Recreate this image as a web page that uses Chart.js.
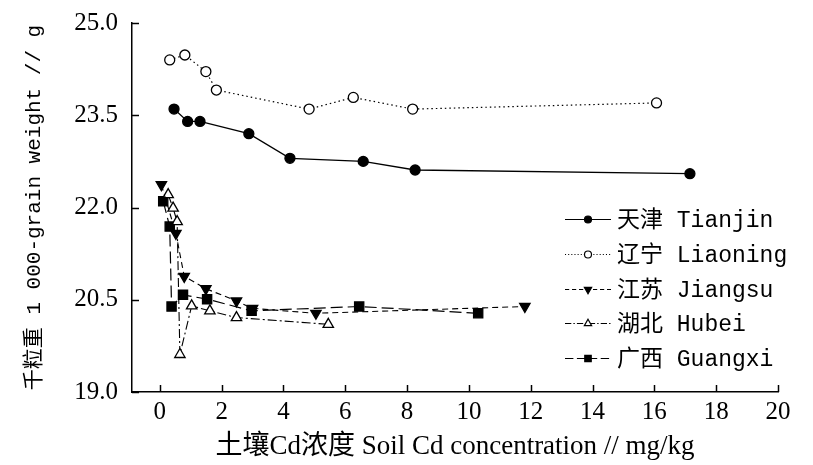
<!DOCTYPE html>
<html>
<head>
<meta charset="utf-8">
<script src="https://cdn.jsdelivr.net/npm/chart.js"></script>
<style>
  html, body { margin: 0; padding: 0; background: #fff; }
  #wrap { width: 813px; height: 465px; }
</style>
</head>
<body>
<div id="wrap"><canvas id="c" width="813" height="465"></canvas></div>
<script>
  // 土壤Cd浓度 (mg/kg) と 千粒重 (g)
  const tianjinX = [0.46, 0.90, 1.30, 2.88, 4.21, 6.58, 8.26, 17.15];
  const tianjinY = [23.60, 23.40, 23.40, 23.20, 22.80, 22.75, 22.61, 22.55];

  const liaoningX = [0.32, 0.81, 1.49, 1.83, 4.83, 6.26, 8.18, 16.07];
  const liaoningY = [24.40, 24.48, 24.21, 23.91, 23.60, 23.79, 23.60, 23.70];

  const jiangsuX = [0.05, 0.52, 0.79, 1.49, 2.48, 3.00, 5.05, 11.81];
  const jiangsuY = [22.37, 21.58, 20.88, 20.68, 20.48, 20.36, 20.28, 20.39];

  const hubeiX = [0.27, 0.43, 0.56, 0.65, 1.03, 1.62, 2.48, 5.45];
  const hubeiY = [22.21, 21.99, 21.77, 19.61, 20.40, 20.32, 20.21, 20.10];

  const guangxiX = [0.11, 0.32, 0.38, 0.75, 1.53, 2.97, 6.45, 10.30];
  const guangxiY = [22.10, 21.69, 20.39, 20.58, 20.51, 20.32, 20.39, 20.28];

  const seriesNames = ['天津 Tianjin', '辽宁 Liaoning', '江苏 Jiangsu', '湖北 Hubei', '广西 Guangxi'];

  const xTicks = [0, 2, 4, 6, 8, 10, 12, 14, 16, 18, 20];
  const yTicks = [19.0, 20.5, 22.0, 23.5, 25.0];

  const X_TITLE = '土壤Cd浓度 Soil Cd concentration // mg/kg';
  const Y_TITLE = '千粒重 1 000-grain weight // g';

  function pairs(xs, ys) {
    return xs.map((x, i) => ({ x: x, y: ys[i] }));
  }

  const BLACK = '#000';

  const datasets = [
    { label: seriesNames[0], data: pairs(tianjinX, tianjinY), borderDash: [],
      pointStyle: 'circle', pointRadius: 5, backgroundColor: BLACK, borderWidth: 1.3 },
    { label: seriesNames[1], data: pairs(liaoningX, liaoningY), borderDash: [1.5, 3],
      pointStyle: 'circle', pointRadius: 5, backgroundColor: '#fff', borderWidth: 1.2 },
    { label: seriesNames[2], data: pairs(jiangsuX, jiangsuY), borderDash: [6, 4],
      pointStyle: 'triangle', rotation: 180, pointRadius: 6, backgroundColor: BLACK, borderWidth: 1.1 },
    { label: seriesNames[3], data: pairs(hubeiX, hubeiY), borderDash: [9, 3, 2, 3],
      pointStyle: 'triangle', pointRadius: 6, backgroundColor: '#fff', borderWidth: 1.1 },
    { label: seriesNames[4], data: pairs(guangxiX, guangxiY), borderDash: [12, 5],
      pointStyle: 'rect', pointRadius: 6.5, backgroundColor: BLACK, borderWidth: 1.2 }
  ].map(d => Object.assign({
    showLine: true,
    borderColor: BLACK,
    pointBorderColor: BLACK,
    pointBackgroundColor: d.backgroundColor,
    pointBorderWidth: 1.3,
    tension: 0
  }, d));

  /* ===== 内向きの目盛り ===== */
  const innerTicks = {
    id: 'innerTicks',
    afterDraw(chart) {
      const ctx = chart.ctx;
      const xs = chart.scales.x;
      const ys = chart.scales.y;
      ctx.save();
      ctx.strokeStyle = BLACK;
      ctx.lineWidth = 1.5;
      xs.ticks.forEach(t => {
        const px = Math.round(xs.getPixelForValue(t.value)) + 0.5;
        ctx.beginPath();
        ctx.moveTo(px, xs.top);
        ctx.lineTo(px, xs.top - 7);
        ctx.stroke();
      });
      ys.ticks.forEach(t => {
        const py = Math.round(ys.getPixelForValue(t.value)) + 0.5;
        ctx.beginPath();
        ctx.moveTo(ys.right, py);
        ctx.lineTo(ys.right + 7, py);
        ctx.stroke();
      });
      ctx.restore();
    }
  };

  /* ===== 凡例（線＋マーカー） ===== */
  const LEGEND_LEFT = 565;
  const LEGEND_TOP = 219;
  const LEGEND_GAP = 34.8;
  const LEGEND_LINE = 46;

  const lineLegend = {
    id: 'lineLegend',
    afterDraw(chart) {
      const ctx = chart.ctx;
      ctx.save();
      chart.data.datasets.forEach((ds, i) => {
        const y = Math.round(LEGEND_TOP + i * LEGEND_GAP) + 0.5;
        const x0 = LEGEND_LEFT;
        const x1 = LEGEND_LEFT + LEGEND_LINE;
        ctx.strokeStyle = BLACK;
        ctx.lineWidth = 1.2;
        ctx.setLineDash(ds.borderDash.length ? ds.borderDash.map(v => v * 0.7) : []);
        ctx.beginPath();
        ctx.moveTo(x0, y);
        ctx.lineTo(x1, y);
        ctx.stroke();
        ctx.setLineDash([]);
        ctx.fillStyle = ds.pointBackgroundColor;
        ctx.lineWidth = 1.2;
        Chart.helpers.drawPoint(ctx, {
          pointStyle: ds.pointStyle,
          rotation: ds.rotation || 0,
          radius: ds.pointRadius * 0.7,
          borderWidth: 1.2
        }, (x0 + x1) / 2, y);

        ctx.fillStyle = BLACK;
        ctx.textBaseline = 'middle';
        ctx.textAlign = 'left';
        ctx.font = '23px "Liberation Mono", "Noto Sans CJK SC", monospace';
        ctx.fillText(ds.label, x1 + 6, y + 1);
      });
      ctx.restore();
    }
  };

  new Chart(document.getElementById('c').getContext('2d'), {
    type: 'scatter',
    data: { datasets },
    options: {
      responsive: false,
      animation: false,
      layout: { padding: { left: 0, right: 35, top: 23, bottom: 0 } },
      plugins: {
        legend: { display: false },
        tooltip: { enabled: false }
      },
      scales: {
        x: {
          type: 'linear',
          min: -0.9,
          max: 20,
          afterBuildTicks: s => { s.ticks = xTicks.map(v => ({ value: v })); },
          afterFit: s => { s.height = 73; },
          grid: { display: false, drawTicks: false },
          border: { display: true, color: BLACK, width: 1.5 },
          ticks: {
            color: BLACK,
            padding: 5,
            maxRotation: 0,
            autoSkip: false,
            font: { family: '"Liberation Serif", serif', size: 25 },
            callback: v => String(v)
          },
          title: {
            display: true,
            text: X_TITLE,
            color: BLACK,
            padding: { top: 0, bottom: 2 },
            font: { family: '"Liberation Serif", "Noto Sans CJK SC", serif', size: 27 }
          }
        },
        y: {
          min: 19,
          max: 25,
          afterBuildTicks: s => { s.ticks = yTicks.map(v => ({ value: v })); },
          afterFit: s => { s.width = 132; s.paddingTop = 0; s.paddingBottom = 0; },
          grid: { display: false, drawTicks: false },
          border: { display: true, color: BLACK, width: 1.5 },
          ticks: {
            color: BLACK,
            padding: 14,
            font: { family: '"Liberation Serif", serif', size: 25 },
            callback: v => Number(v).toFixed(1)
          },
          title: {
            display: true,
            text: Y_TITLE,
            color: BLACK,
            padding: { top: 22, bottom: 0 },
            font: { family: '"Liberation Mono", "Noto Sans CJK SC", monospace', size: 21 }
          }
        }
      }
    },
    plugins: [innerTicks, lineLegend]
  });
</script>
</body>
</html>
